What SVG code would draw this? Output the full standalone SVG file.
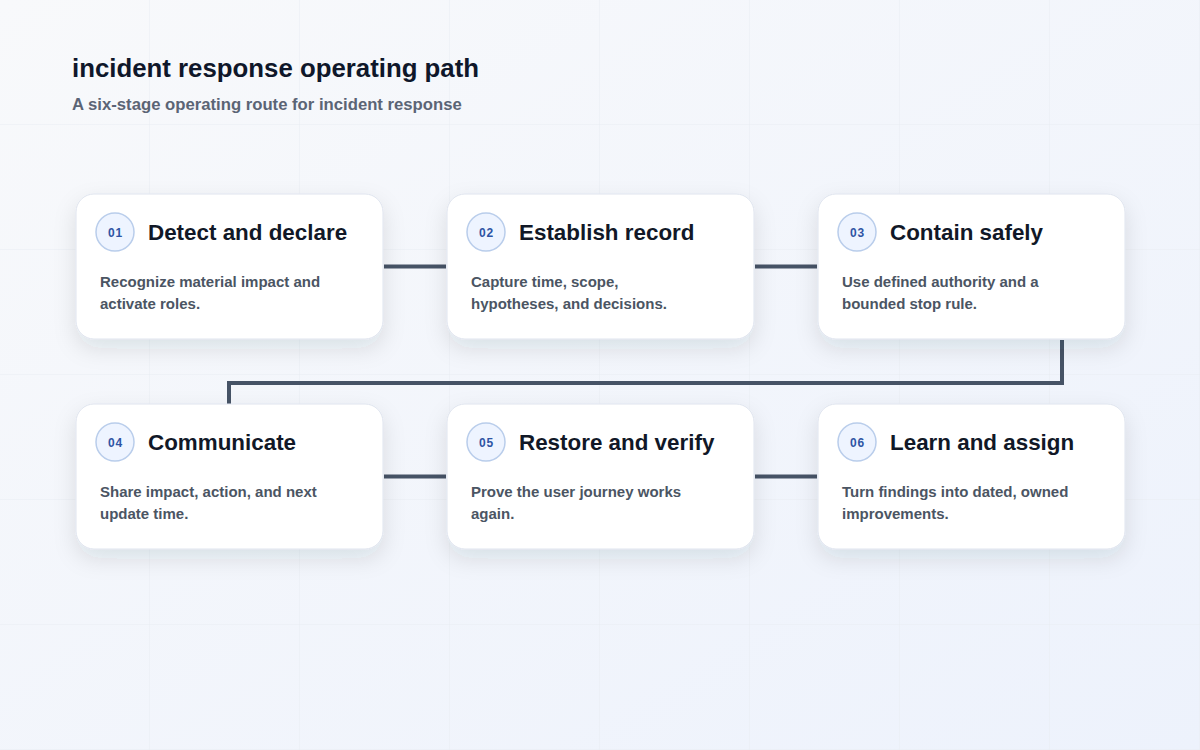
<svg xmlns="http://www.w3.org/2000/svg" width="1200" height="750" viewBox="0 0 1200 750">
<defs>
<linearGradient id="bg" x1="0" y1="0" x2="1" y2="1">
<stop offset="0" stop-color="#f8f9fb"/>
<stop offset="1" stop-color="#edf2fc"/>
</linearGradient>
<pattern id="grid" width="150" height="125" patternUnits="userSpaceOnUse">
<path d="M150 0 V125 M0 125 H150" fill="none" stroke="#e9ecf2" stroke-width="1"/>
</pattern>
<filter id="sh" x="-20%" y="-30%" width="140%" height="170%">
<feDropShadow dx="0" dy="9" stdDeviation="11" flood-color="#1e293b" flood-opacity="0.11"/>
</filter>
<style>
.card{fill:#ffffff;stroke:#dfe4ee;stroke-width:1;filter:url(#sh)}
.badge{fill:#eef4ff;stroke:#b9cdeb;stroke-width:1.5}
.num{font-family:"Liberation Sans",Arial,sans-serif;font-size:12px;font-weight:700;fill:#2f55a4;text-anchor:middle;letter-spacing:0.8px}
.ttl{font-family:"Liberation Sans",Arial,sans-serif;font-size:22.4px;font-weight:700;fill:#111827}
.desc{font-family:"Liberation Sans",Arial,sans-serif;font-size:15px;font-weight:700;fill:#4b5563}
.conn{fill:none;stroke:#465366;stroke-width:4;stroke-linejoin:miter}
</style>
</defs>
<rect width="1200" height="750" fill="url(#bg)"/>
<rect width="1200" height="750" fill="url(#grid)"/>
<text x="72" y="77" font-family="'Liberation Sans',Arial,sans-serif" font-size="25.8" font-weight="700" fill="#0f172a">incident response operating path</text>
<text x="72" y="110" font-family="'Liberation Sans',Arial,sans-serif" font-size="16.7" font-weight="700" fill="#5b6475">A six-stage operating route for incident response</text>
<g id="connectors">
<path class="conn" d="M384 266.5 H446"/>
<path class="conn" d="M755 266.5 H817"/>
<path class="conn" d="M1062 340 V383 H229 V404"/>
<path class="conn" d="M384 476.5 H446"/>
<path class="conn" d="M755 476.5 H817"/>
</g>
<g id="node1">
<rect class="card" x="76" y="194" width="307" height="145" rx="18"/>
<circle class="badge" cx="115" cy="232" r="19"/>
<text class="num" x="115.4" y="236.5">01</text>
<text class="ttl" x="148" y="239.5">Detect and declare</text>
<text class="desc" x="100" y="287">Recognize material impact and</text>
<text class="desc" x="100" y="309">activate roles.</text>
</g>
<g id="node2">
<rect class="card" x="447" y="194" width="307" height="145" rx="18"/>
<circle class="badge" cx="486" cy="232" r="19"/>
<text class="num" x="486.4" y="236.5">02</text>
<text class="ttl" x="519" y="239.5">Establish record</text>
<text class="desc" x="471" y="287">Capture time, scope,</text>
<text class="desc" x="471" y="309">hypotheses, and decisions.</text>
</g>
<g id="node3">
<rect class="card" x="818" y="194" width="307" height="145" rx="18"/>
<circle class="badge" cx="857" cy="232" r="19"/>
<text class="num" x="857.4" y="236.5">03</text>
<text class="ttl" x="890" y="239.5">Contain safely</text>
<text class="desc" x="842" y="287">Use defined authority and a</text>
<text class="desc" x="842" y="309">bounded stop rule.</text>
</g>
<g id="node4">
<rect class="card" x="76" y="404" width="307" height="145" rx="18"/>
<circle class="badge" cx="115" cy="442" r="19"/>
<text class="num" x="115.4" y="446.5">04</text>
<text class="ttl" x="148" y="449.5">Communicate</text>
<text class="desc" x="100" y="497">Share impact, action, and next</text>
<text class="desc" x="100" y="519">update time.</text>
</g>
<g id="node5">
<rect class="card" x="447" y="404" width="307" height="145" rx="18"/>
<circle class="badge" cx="486" cy="442" r="19"/>
<text class="num" x="486.4" y="446.5">05</text>
<text class="ttl" x="519" y="449.5">Restore and verify</text>
<text class="desc" x="471" y="497">Prove the user journey works</text>
<text class="desc" x="471" y="519">again.</text>
</g>
<g id="node6">
<rect class="card" x="818" y="404" width="307" height="145" rx="18"/>
<circle class="badge" cx="857" cy="442" r="19"/>
<text class="num" x="857.4" y="446.5">06</text>
<text class="ttl" x="890" y="449.5">Learn and assign</text>
<text class="desc" x="842" y="497">Turn findings into dated, owned</text>
<text class="desc" x="842" y="519">improvements.</text>
</g>
</svg>
